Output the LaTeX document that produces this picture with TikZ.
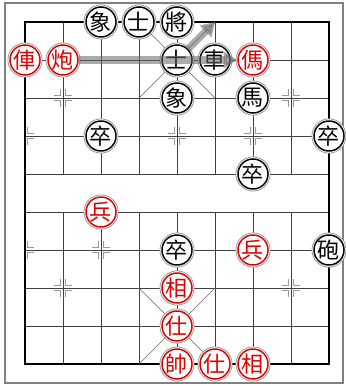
\documentclass[tikz,border=0pt]{standalone}
\usepackage{fontspec}
\newfontfamily\cjk{Noto Sans CJK TC}
\usetikzlibrary{arrows.meta}
\definecolor{piecered}{HTML}{DD0000}
\definecolor{ringgray}{HTML}{9A9A9A}
\tikzset{
  gridline/.style={line width=0.55pt,black!75},
  posmark/.style={line width=0.9pt,black!40},
  piece/.style={circle,fill=white,line width=1.1pt,minimum size=0.79cm,inner sep=0pt,
    font=\cjk\fontsize{16.5}{16.5}\selectfont},
  blackpiece/.style={piece,draw=black,text=black},
  redpiece/.style={piece,draw=piecered,text=piecered},
  ring/.style={draw=ringgray,line width=0.6pt,fill=white},
  move/.style={-{Triangle[width=12pt,length=10pt]},line width=5.5pt,black!60,opacity=0.55}
}

\begin{document}
\begin{tikzpicture}[x=1cm,y=1cm]
\useasboundingbox (-0.658,0.579) rectangle (8.421,-9.579);
% frame
\draw[line width=0.9pt,black!50] (-0.526,0.5) rectangle (8.37,-9.5);
% board lines
\foreach \r in {1,...,8}
  \draw[gridline] (0,-\r) -- (8,-\r);
\foreach \c in {1,...,7}{
  \draw[gridline] (\c,0) -- (\c,-4);
  \draw[gridline] (\c,-5) -- (\c,-9);
}
\draw[line width=1.3pt] (0,0) rectangle (8,-9);
% palaces
\draw[line width=0.4pt,black!60] (3,0) -- (5,-2) (5,0) -- (3,-2);
\draw[line width=0.4pt,black!60] (3,-7) -- (5,-9) (5,-7) -- (3,-9);
% cannon and soldier marks
\def\g{0.07}\def\l{0.16}
\foreach \x/\y in {1/2,7/2,0/3,2/3,4/3,6/3,8/3,0/6,2/6,4/6,6/6,8/6,1/7,7/7}{
  \foreach \s in {-1,1}{
    \pgfmathtruncatemacro{\nx}{\x+\s}
    \ifnum\nx<0 \else\ifnum\nx>8 \else
      \draw[posmark] (\x+\s*\g,-\y+\g+\l) -- (\x+\s*\g,-\y+\g) -- (\x+\s*\g+\s*\l,-\y+\g);
      \draw[posmark] (\x+\s*\g,-\y-\g-\l) -- (\x+\s*\g,-\y-\g) -- (\x+\s*\g+\s*\l,-\y-\g);
    \fi\fi
  }
}
% black pieces
\foreach \t/\x/\y in {象/2/0,士/3/0,將/4/0,士/4/1,車/5/1,象/4/2,馬/6/2,
                      卒/2/3,卒/8/3,卒/6/4,卒/4/6,砲/8/6}{
  \draw[ring] (\x,-\y) circle (0.45);
  \node[blackpiece] (b\x\y) at (\x,-\y) {\t};
}
% red pieces
\foreach \t/\x/\y in {俥/0/1,炮/1/1,傌/6/1,兵/2/5,兵/6/6,相/4/7,仕/4/8,
                      帥/4/9,仕/5/9,相/6/9}{
  \draw[ring] (\x,-\y) circle (0.45);
  \node[redpiece] (r\x\y) at (\x,-\y) {\t};
}
% moves
\coordinate (palcorner) at (5,0);
\draw[move] (r11) -- (r61);
\draw[move] (b41) -- (palcorner);
\end{tikzpicture}
\end{document}
